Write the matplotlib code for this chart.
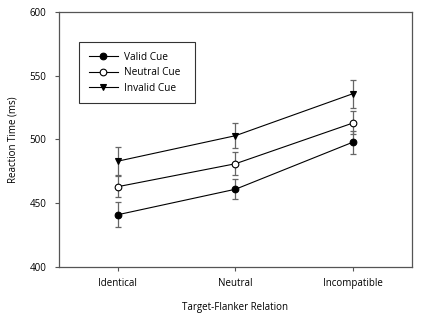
import matplotlib
matplotlib.use("Agg")
import matplotlib.pyplot as plt

plt.rcParams['font.family'] = ['Open Sans', 'DejaVu Sans']

relations = ["Identical", "Neutral", "Incompatible"]
valid = [441, 461, 498]
valid_err = [10, 8, 9]
neutral = [463, 481, 513]
neutral_err = [8, 9, 9]
invalid = [483, 503, 536]
invalid_err = [11, 10, 11]

x = [1, 2, 3]

fig = plt.figure(figsize=(4.27, 3.17), dpi=100)
ax = fig.add_axes([59/427, 50/317, 353/427, 255/317])

series = [
    ("Valid Cue", valid, valid_err, "o", "black"),
    ("Neutral Cue", neutral, neutral_err, "o", "white"),
    ("Invalid Cue", invalid, invalid_err, "v", "black"),
]
for label, vals, errs, mk, fc in series:
    ax.errorbar(x, vals, yerr=errs, fmt="none", ecolor="#666666", elinewidth=0.9,
                capsize=2.5, capthick=0.9, zorder=2)
    ax.plot(x, vals, color="black", lw=0.8, marker=mk, markersize=4.8,
            markerfacecolor=fc, markeredgecolor="black", markeredgewidth=0.8,
            label=label, zorder=3)

ax.set_xlim(0.5, 3.5)
ax.set_ylim(400, 600)
ax.set_yticks([400, 450, 500, 550, 600])
ax.set_xticks(x)
ax.set_xticklabels(relations)
for s in ax.spines.values():
    s.set_color("#555555")
    s.set_linewidth(0.9)
ax.tick_params(direction="out", length=3, color="#555555", labelsize=7, pad=6)
ax.tick_params(axis="x", pad=5)
ax.set_xlabel("Target-Flanker Relation", fontsize=7, labelpad=9)
ax.set_ylabel("Reaction Time (ms)", fontsize=7, labelpad=8)

leg = ax.legend(loc="upper left", bbox_to_anchor=(0.057, 0.0, 0.329, 0.882),
                mode="expand", borderaxespad=0, fontsize=7.3,
                frameon=True, fancybox=False, edgecolor="black",
                handlelength=2.9, handletextpad=0.6, borderpad=0.95,
                labelspacing=0.45)
leg.get_frame().set_linewidth(0.8)

fig.savefig("out.png", dpi=100)
